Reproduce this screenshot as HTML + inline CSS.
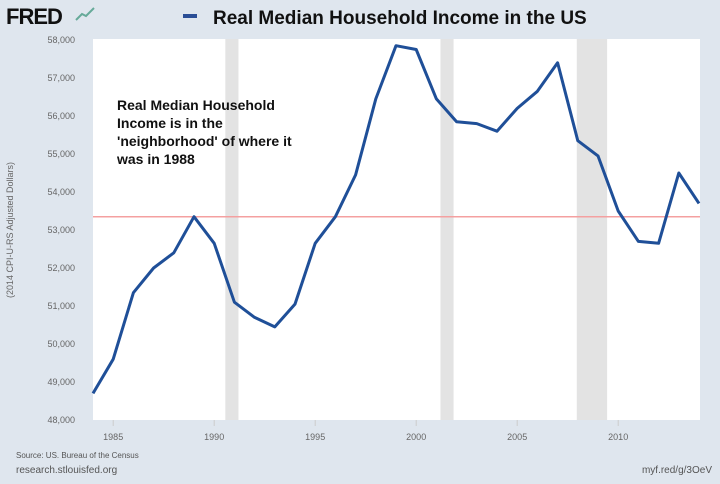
<!DOCTYPE html>
<html><head><meta charset="utf-8"><style>
body{margin:0;width:720px;height:479px;background:#dfe6ee;font-family:"Liberation Sans",sans-serif;overflow:hidden}
</style></head><body>
<svg width="720" height="479" xmlns="http://www.w3.org/2000/svg">
<rect width="720" height="479" fill="#dfe6ee"/>
<text x="6" y="24" font-size="22" font-weight="bold" fill="#111" letter-spacing="-1">FRED</text>
<path d="M76 20 L82 14 L86 16 L94 8" stroke="#6a9" stroke-width="2" fill="none"/>
<rect x="183" y="14" width="14" height="4" fill="#2a4e96"/>
<text x="213" y="24" font-size="19" font-weight="bold" fill="#111">Real Median Household Income in the US</text>
<rect x="93" y="39" width="607" height="381" fill="#fff"/>
<g id="rec"></g><g id="yax"></g><g id="xax"></g>
<line id="ref" stroke="#f4a0a0" stroke-width="1.5"/>
<path id="line" fill="none" stroke="#1f4f98" stroke-width="3" stroke-linejoin="round"/>
<text font-size="14" font-weight="bold" fill="#111"><tspan x="117" y="110">Real Median Household</tspan><tspan x="117" y="128">Income is in the</tspan><tspan x="117" y="146">'neighborhood' of where it</tspan><tspan x="117" y="164">was in 1988</tspan></text>
<text transform="translate(13,230) rotate(-90)" text-anchor="middle" font-size="9" fill="#666">(2014 CPI-U-RS Adjusted Dollars)</text>
<text x="16" y="458" font-size="8" fill="#555">Source: US. Bureau of the Census</text>
<text x="16" y="473" font-size="10" fill="#555">research.stlouisfed.org</text>
<text x="712" y="473" font-size="10" fill="#555" text-anchor="end">myf.red/g/3OeV</text>
</svg>
<script>
const years=[1984,1985,1986,1987,1988,1989,1990,1991,1992,1993,1994,1995,1996,1997,1998,1999,2000,2001,2002,2003,2004,2005,2006,2007,2008,2009,2010,2011,2012,2013,2014];
const income=[48700,49600,51350,52000,52400,53350,52650,51100,50700,50450,51050,52650,53350,54450,56450,57850,57750,56450,55850,55800,55600,56200,56650,57400,55350,54950,53500,52700,52650,54500,53700];
const yTicks=[48000,49000,50000,51000,52000,53000,54000,55000,56000,57000,58000];
const xTicks=[1985,1990,1995,2000,2005,2010];
const recStart=[1990.55,2001.2,2007.95];
const recEnd=[1991.2,2001.85,2009.45];
const refValue=53350;
const NS="http://www.w3.org/2000/svg";
const X=y=>93+(y-1984)*20.2, Y=v=>420-(v-48000)*0.038;
function mk(t,a,p){const e=document.createElementNS(NS,t);for(const k in a)e.setAttribute(k,a[k]);p.appendChild(e);return e;}
const rec=document.getElementById('rec');
recStart.forEach((s,i)=>{const r=mk('rect',{x:X(s),y:39,width:X(recEnd[i])-X(s),height:381,fill:'#e3e3e3'},rec);

});
const yax=document.getElementById('yax');
yTicks.forEach(v=>{const t=mk('text',{x:75,y:Y(v)+3,'font-size':9,fill:'#666','text-anchor':'end'},yax);t.textContent=v.toLocaleString('en-US');

});
const xax=document.getElementById('xax');
xTicks.forEach(v=>{const l=mk('line',{x1:X(v),x2:X(v),y1:420,y2:426,stroke:'#ccc'},xax);


const t=mk('text',{x:X(v),y:440,'font-size':9,fill:'#666','text-anchor':'middle'},xax);t.textContent=v;

});
const ref=document.getElementById('ref');
ref.setAttribute('x1',93);ref.setAttribute('x2',700);ref.setAttribute('y1',Y(refValue));ref.setAttribute('y2',Y(refValue));
document.getElementById('line').setAttribute('d',years.map((y,i)=>(i?'L':'M')+X(y)+' '+Y(income[i])).join(' '));
</script>
</body></html>
